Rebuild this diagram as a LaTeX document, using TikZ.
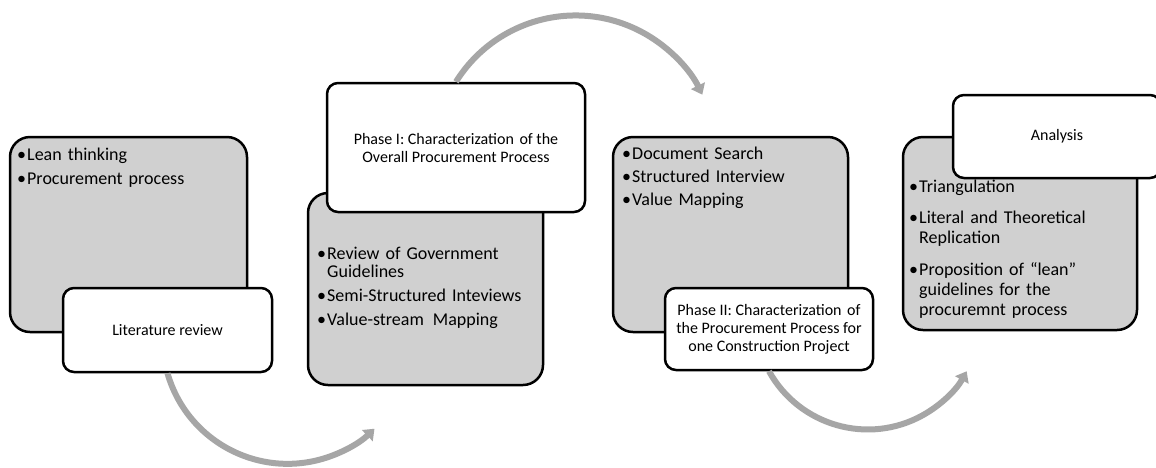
\documentclass[tikz,border=0pt]{standalone}
\usepackage{fontspec}
\setmainfont{Carlito}
\usetikzlibrary{arrows.meta}
\definecolor{boxgray}{HTML}{D0D0D0}
\definecolor{arrowgray}{HTML}{A6A6A6}
\newlength{\bw}\setlength{\bw}{10pt}
\newcommand{\bl}[1]{\makebox[\bw][l]{•}#1}
\newcommand{\cl}[1]{\hspace*{\bw}#1}
\begin{document}
\begin{tikzpicture}[x=1pt,y=-1pt,
  graybox/.style={draw=black, line width=2.5pt, fill=boxgray, rounded corners=20pt, inner sep=0pt},
  whitebox/.style={draw=black, line width=2.5pt, fill=white, rounded corners=11pt, inner sep=0pt,
                   align=center, font=\fontsize{16}{18}\selectfont},
  bullets/.style={anchor=base west, inner sep=0pt, text width=225pt, align=left,
                  font=\fontsize{18}{18}\selectfont},
  conn/.style={draw=arrowgray, line width=6pt, -{Triangle[length=10pt,width=15pt]}}]
\useasboundingbox (0,0) rectangle (1156,467);
\fill[white] (0,0) rectangle (1156,467);

% stage 1
\node[graybox, minimum width=237pt, minimum height=195pt] (g1) at (128.5,234.5) {};
\node[bullets] (t1) at (17,160) {\bl{Lean thinking}\\[6pt]\bl{Procurement process}};
\node[whitebox, minimum width=209pt, minimum height=84pt] (w1) at (167.5,330) {Literature review};

% stage 2
\node[graybox, minimum width=235pt, minimum height=192pt] (g2) at (425.5,289) {};
\node[bullets] (t2) at (317,259) {\bl{Review of Government}\\\cl{Guidelines}\\[6pt]\bl{Semi-Structured Inteviews}\\[6pt]\bl{Value-stream\hspace{3pt} Mapping}};
\node[whitebox, minimum width=258pt, minimum height=129pt] (w2) at (456,147.5) {Phase I: Characterization\hspace{2pt} of the\\Overall Procurement Process};

% stage 3
\node[graybox, minimum width=235pt, minimum height=195pt] (g3) at (730.5,234.5) {};
\node[bullets] (t3) at (622,159) {\bl{Document Search}\\[5pt]\bl{Structured Interview}\\[5pt]\bl{Value Mapping}};
\node[whitebox, minimum width=208pt, minimum height=82pt] (w3) at (769,329) {Phase II: Characterization\hspace{2pt} of\\the Procurement Process for\\one Construction Project};

% stage 4
\node[graybox, minimum width=234pt, minimum height=193pt] (g4) at (1020,233.5) {};
\node[bullets, font=\fontsize{18}{20}\selectfont] (t4) at (909,192) {\bl{Triangulation}\\[11pt]\bl{Literal and Theoretical}\\\cl{Replication}\\[12pt]\bl{Proposition of “lean”}\\\cl{guidelines for the}\\\cl{procuremnt process}};
\node[whitebox, minimum width=208pt, minimum height=83pt] (w4) at (1057,136.5) {Analysis};

% connectors
\draw[conn] (w1.south) arc[start angle=196, end angle=314, radius=125pt];
\draw[conn] (w2.north) arc[start angle=148, end angle=26, radius=141pt];
\draw[conn] (w3.south) arc[start angle=209, end angle=331, radius=113pt];
\end{tikzpicture}
\end{document}
